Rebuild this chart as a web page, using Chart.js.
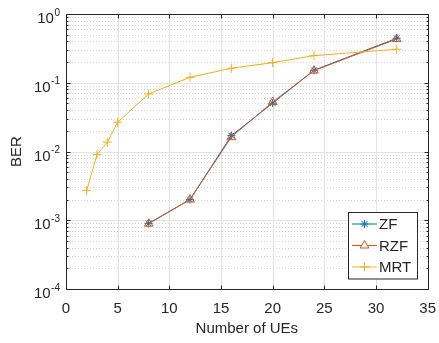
<!DOCTYPE html>
<html>
<head>
<meta charset="utf-8">
<script src="https://cdn.jsdelivr.net/npm/chart.js@4.4.1/dist/chart.umd.min.js"></script>
<style>
  html, body { margin: 0; padding: 0; background: #ffffff; }
  canvas { display: block; }
</style>
</head>
<body>
<canvas id="ber" width="439" height="343"></canvas>
<script>
// Number of users served and bit error rate per precoder
const usersMRT = [2, 3, 4, 5, 8, 12, 16, 20, 24, 32];
const berMRT   = [0.0027, 0.0090, 0.0137, 0.0267, 0.0688, 0.120, 0.1625, 0.196, 0.248, 0.307];

const usersZF  = [8, 12, 16, 20, 24, 32];
const berZF    = [0.00090, 0.0020, 0.0170, 0.0505, 0.152, 0.443];
const berRZF   = [0.00089, 0.0020, 0.0162, 0.0525, 0.150, 0.432];

const xTicks = [0, 5, 10, 15, 20, 25, 30, 35];
const yExponents = [0, -1, -2, -3, -4];

const INK = '#262626';
const FONT = "'Liberation Sans', Arial, Helvetica, sans-serif";

function toPoints(xs, ys) {
  return xs.map((x, i) => ({ x: x, y: ys[i] }));
}

// Grid lines (major solid, minor dotted) under the data
const gridPlugin = {
  id: 'axesGrid',
  beforeDatasetsDraw(chart) {
    const { ctx, chartArea: a, scales: { x, y } } = chart;
    ctx.save();
    ctx.lineWidth = 1;
    // minor log grid
    ctx.strokeStyle = '#d4d4d4';
    ctx.setLineDash([1, 2]);
    for (let e = -4; e < 0; e++) {
      for (let k = 2; k <= 9; k++) {
        const py = Math.round(y.getPixelForValue(k * Math.pow(10, e))) + 0.5;
        ctx.beginPath(); ctx.moveTo(a.left, py); ctx.lineTo(a.right, py); ctx.stroke();
      }
    }
    ctx.setLineDash([]);
    // major grid
    ctx.strokeStyle = '#e3e3e3';
    yExponents.forEach(e => {
      const py = Math.round(y.getPixelForValue(Math.pow(10, e))) + 0.5;
      ctx.beginPath(); ctx.moveTo(a.left, py); ctx.lineTo(a.right, py); ctx.stroke();
    });
    xTicks.forEach(v => {
      const px = Math.round(x.getPixelForValue(v)) + 0.5;
      ctx.beginPath(); ctx.moveTo(px, a.top); ctx.lineTo(px, a.bottom); ctx.stroke();
    });
    ctx.restore();
  },
  afterDatasetsDraw(chart) {
    const { ctx, chartArea: a, scales: { x, y } } = chart;
    const L = Math.round(a.left) + 0.5, R = Math.round(a.right) + 0.5;
    const T = Math.round(a.top) + 0.5, B = Math.round(a.bottom) + 0.5;
    ctx.save();
    ctx.strokeStyle = INK;
    ctx.lineWidth = 1;
    // box
    ctx.strokeRect(L, T, R - L, B - T);
    // y ticks, inward on both sides
    ctx.beginPath();
    for (let e = -4; e <= 0; e++) {
      const py = Math.round(y.getPixelForValue(Math.pow(10, e))) + 0.5;
      ctx.moveTo(L, py); ctx.lineTo(L + 4, py);
      ctx.moveTo(R, py); ctx.lineTo(R - 4, py);
      if (e < 0) {
        for (let k = 2; k <= 9; k++) {
          const pm = Math.round(y.getPixelForValue(k * Math.pow(10, e))) + 0.5;
          ctx.moveTo(L, pm); ctx.lineTo(L + 2, pm);
          ctx.moveTo(R, pm); ctx.lineTo(R - 2, pm);
        }
      }
    }
    // x ticks, inward top and bottom
    xTicks.forEach(v => {
      const px = Math.round(x.getPixelForValue(v)) + 0.5;
      ctx.moveTo(px, B); ctx.lineTo(px, B - 4);
      ctx.moveTo(px, T); ctx.lineTo(px, T + 4);
    });
    ctx.stroke();

    // y tick labels as powers of ten
    ctx.fillStyle = INK;
    ctx.textBaseline = 'alphabetic';
    yExponents.forEach(e => {
      const py = y.getPixelForValue(Math.pow(10, e));
      const expText = e === 0 ? '0' : '-' + Math.abs(e);
      ctx.font = '10px ' + FONT;
      ctx.textAlign = 'right';
      const ew = ctx.measureText(expText).width;
      const right = 60;
      ctx.fillText(expText, right, py + 1.5);
      ctx.font = '15px ' + FONT;
      ctx.fillText('10', right - ew - 0.5, py + 9);
    });

    // legend
    const lx = 348.5, ly = 212.5, lw = 69, lh = 66.5;
    ctx.fillStyle = '#ffffff';
    ctx.fillRect(lx, ly, lw, lh);
    ctx.strokeStyle = INK;
    ctx.strokeRect(lx, ly, lw, lh);
    const rows = [224, 245.5, 267];
    chart.data.datasets.forEach((ds, i) => {
      const cy = rows[i];
      ctx.strokeStyle = ds.borderColor;
      ctx.lineWidth = ds.borderWidth;
      ctx.beginPath(); ctx.moveTo(352, cy); ctx.lineTo(377, cy); ctx.stroke();
      ctx.lineWidth = 1;
      ctx.fillStyle = '#ffffff';
      Chart.helpers.drawPoint(ctx, {
        pointStyle: ds.pointStyle, radius: ds.pointRadius, rotation: 0, borderWidth: 1
      }, 364.5, cy);
      ctx.fillStyle = INK;
      ctx.font = '15px ' + FONT;
      ctx.textAlign = 'left';
      ctx.textBaseline = 'middle';
      ctx.fillText(ds.label, 379, cy + 1);
    });
    ctx.restore();
  }
};

new Chart(document.getElementById('ber'), {
  type: 'line',
  data: {
    datasets: [
      {
        label: 'ZF', data: toPoints(usersZF, berZF), order: 3,
        borderColor: '#0072BD', backgroundColor: '#0072BD', borderWidth: 1,
        pointStyle: 'star', pointRadius: 4, pointBorderWidth: 1,
        pointBackgroundColor: 'rgba(0,0,0,0)', pointBorderColor: '#0072BD'
      },
      {
        label: 'RZF', data: toPoints(usersZF, berRZF), order: 2,
        borderColor: '#D95319', backgroundColor: '#D95319', borderWidth: 1,
        pointStyle: 'triangle', pointRadius: 5, pointBorderWidth: 1,
        pointBackgroundColor: 'rgba(0,0,0,0)', pointBorderColor: '#D95319'
      },
      {
        label: 'MRT', data: toPoints(usersMRT, berMRT), order: 1,
        borderColor: '#EDB120', backgroundColor: '#EDB120', borderWidth: 1,
        pointStyle: 'cross', pointRadius: 4.5, pointBorderWidth: 1,
        pointBackgroundColor: 'rgba(0,0,0,0)', pointBorderColor: '#EDB120'
      }
    ]
  },
  options: {
    responsive: false,
    animation: false,
    devicePixelRatio: 1,
    layout: { padding: { left: 0, right: 10, top: 14, bottom: 0 } },
    plugins: { legend: { display: false }, tooltip: { enabled: false } },
    elements: { line: { tension: 0 } },
    scales: {
      x: {
        type: 'linear', min: 0, max: 35,
        afterFit(s) { s.height = 54; },
        grid: { display: false },
        border: { display: false },
        ticks: {
          stepSize: 5, padding: 3, maxRotation: 0,
          color: INK, font: { family: FONT, size: 15 }
        },
        title: {
          display: true, text: 'Number of UEs', color: INK,
          font: { family: FONT, size: 15 }, padding: { top: 0, bottom: 5 }
        }
      },
      y: {
        type: 'logarithmic', min: 1e-4, max: 1,
        afterFit(s) { s.width = 66; },
        grid: { display: false },
        border: { display: false },
        ticks: { display: false },
        title: {
          display: true, text: 'BER', color: INK,
          font: { family: FONT, size: 15 }, padding: { top: 8, bottom: 0 }
        }
      }
    }
  },
  plugins: [gridPlugin]
});
</script>
</body>
</html>
